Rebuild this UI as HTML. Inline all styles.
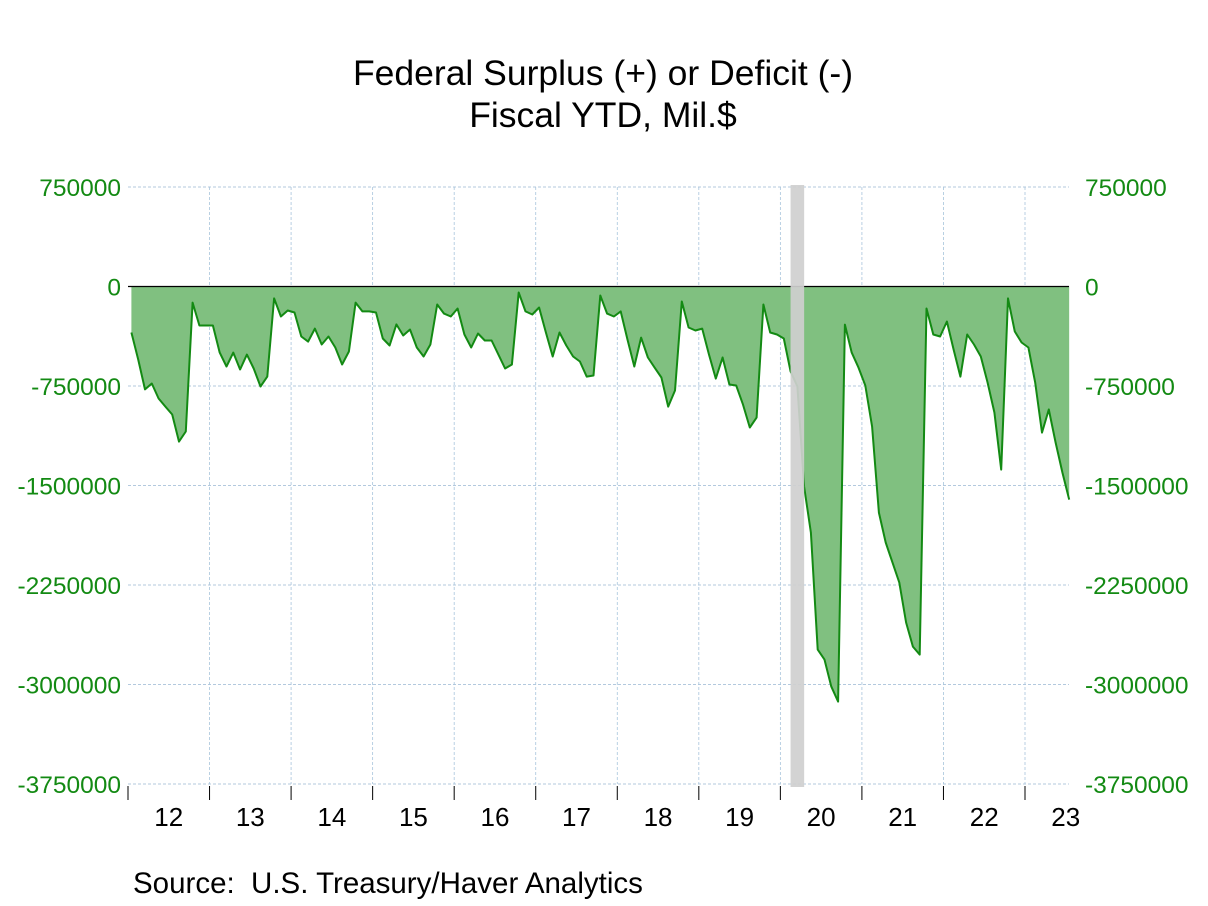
<!DOCTYPE html>
<html><head><meta charset="utf-8"><style>
body{margin:0;background:#fff;}
svg{display:block;font-family:"Liberation Sans",Arial,sans-serif;}
</style></head><body>
<svg id="chart" width="1208" height="906" viewBox="0 0 1208 906">
<text x="603" y="85" font-size="35.5" text-anchor="middle" fill="#000">Federal Surplus (+) or Deficit (-)</text>
<text x="603" y="127" font-size="35.5" text-anchor="middle" fill="#000">Fiscal YTD, Mil.$</text>
<g id="grid"></g>
<g id="series"></g>
<g id="axes"></g>
<text x="133" y="893" font-size="29.5" fill="#000" xml:space="preserve" style="white-space:pre">Source:  U.S. Treasury/Haver Analytics</text>
</svg>
<script>
const yTicks=[750000,0,-750000,-1500000,-2250000,-3000000,-3750000];
const yearLabels=["12","13","14","15","16","17","18","19","20","21","22","23"];
const startYear=2012;
const recession=[2020+1.5/12,2020+3.5/12];
const deficit=[
-347000,-550000,-776000,-731000,-844000,-905000,-965000,-1169000,-1093000,-121000,-294000,-294000,
-294000,-498000,-603000,-498000,-626000,-513000,-618000,-754000,-679000,-90000,-226000,-181000,
-196000,-377000,-415000,-317000,-437000,-377000,-460000,-588000,-490000,-121000,-188000,-188000,
-196000,-392000,-445000,-286000,-369000,-324000,-460000,-528000,-437000,-136000,-204000,-226000,
-166000,-362000,-460000,-354000,-407000,-407000,-513000,-618000,-588000,-45000,-188000,-211000,
-158000,-347000,-528000,-347000,-445000,-528000,-565000,-679000,-671000,-68000,-204000,-226000,
-188000,-400000,-603000,-385000,-535000,-611000,-686000,-905000,-784000,-113000,-309000,-332000,
-317000,-513000,-694000,-535000,-739000,-746000,-890000,-1063000,-988000,-136000,-347000,-362000,
-392000,-641000,-754000,-1508000,-1855000,-2737000,-2812000,-3016000,-3129000,-287000,-498000,-611000,
-746000,-1056000,-1704000,-1930000,-2081000,-2232000,-2533000,-2714000,-2775000,-166000,-362000,-377000,
-264000,-475000,-679000,-362000,-437000,-528000,-724000,-950000,-1380000,-90000,-339000,-422000,
-460000,-724000,-1101000,-927000,-1176000,-1402000,-1606000
];
const NS="http://www.w3.org/2000/svg";
const L=128,R=1069,yTop=187,yBot=784,yMax=750000,yMin=-3750000;
const yearW=(1025-128)/11;
function X(t){return L+(t-startYear)*yearW;}
function Y(v){return yTop+(yMax-v)/(yMax-yMin)*(yBot-yTop);}
function mk(tag,attrs,parent){const e=document.createElementNS(NS,tag);for(const k in attrs)e.setAttribute(k,attrs[k]);parent.appendChild(e);return e;}
const grid=document.getElementById('grid'),series=document.getElementById('series'),axes=document.getElementById('axes');
yTicks.forEach(v=>{
  if(v!==0){const g=mk('line',{x1:L,x2:R,y1:Y(v),y2:Y(v),stroke:'#9ab8d4','stroke-width':0.8,'stroke-dasharray':'3,2'},grid);
  
  }
  const s=(v===0?'0':String(v));
  const t1=mk('text',{x:121,y:Y(v)+9,'font-size':24.5,'text-anchor':'end',fill:'#138a13'},axes);t1.textContent=s;
  
  
  const t2=mk('text',{x:1085,y:Y(v)+9,'font-size':24.5,'text-anchor':'start',fill:'#138a13'},axes);t2.textContent=s;
  
  
});
yearLabels.forEach((lab,i)=>{
  const x=X(startYear+i);
  if(i>0){const g=mk('line',{x1:x,x2:x,y1:yTop,y2:yBot,stroke:'#a8c4dc','stroke-width':0.8,'stroke-dasharray':'3,2'},grid);
  
  }
  const tk=mk('line',{x1:x,x2:x,y1:yBot+2,y2:yBot+16,stroke:'#000','stroke-width':1},axes);
  
  
  const t=mk('text',{x:x+yearW/2,y:826,'font-size':26,'text-anchor':'middle',fill:'#000'},axes);t.textContent=lab;
  
  
});
const pts=deficit.map((v,i)=>[X(startYear+(i+0.5)/12),Y(v)]);
const y0=Y(0);
let d='M'+pts[0][0]+','+y0+' '+pts.map(p=>'L'+p[0].toFixed(1)+','+p[1].toFixed(1)).join(' ')+' L'+pts[pts.length-1][0]+','+y0+' Z';
const area=mk('path',{d:d,fill:'#80c080',stroke:'none'},series);


const line=mk('path',{d:'M'+pts.map(p=>p[0].toFixed(1)+','+p[1].toFixed(1)).join(' L'),fill:'none',stroke:'#138a13','stroke-width':2,'stroke-linejoin':'round'},series);


const zl=mk('line',{x1:L,x2:R,y1:y0,y2:y0,stroke:'#000','stroke-width':1.2},series);


const rb=mk('rect',{x:X(recession[0]),y:yTop-2,width:X(recession[1])-X(recession[0]),height:yBot-yTop+5,fill:'#cfcfcf','fill-opacity':0.92},series);


</script>
</body></html>
